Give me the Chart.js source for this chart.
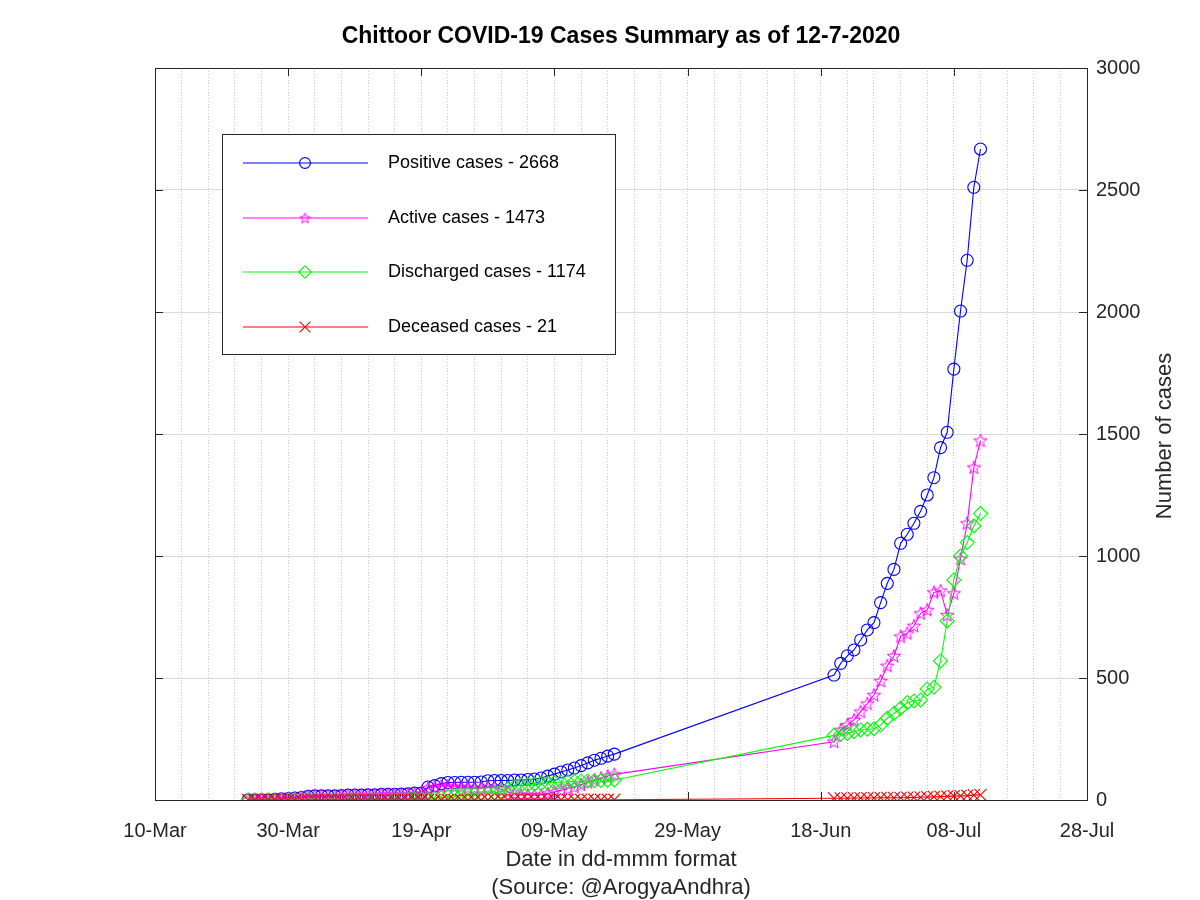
<!DOCTYPE html>
<html>
<head>
<meta charset="utf-8">
<title>Chittoor COVID-19 Cases Summary</title>
<script src="https://cdn.jsdelivr.net/npm/chart.js@4.4.1/dist/chart.umd.min.js"></script>
<style>
  html, body { margin: 0; padding: 0; background: #fff; }
  #wrap { width: 1200px; height: 900px; }
</style>
</head>
<body>
<div id="wrap"><canvas id="chart" width="1200" height="900"></canvas></div>
<script>
// ----- DATOS -----

// fechas de los boletines (2020, mm-dd)
const reportDates = [
    '03-24', '03-25', '03-26', '03-27', '03-28', '03-29', '03-30', '03-31',
    '04-01', '04-02', '04-03', '04-04', '04-05', '04-06', '04-07', '04-08', '04-09', '04-10',
    '04-11', '04-12', '04-13', '04-14', '04-15', '04-16', '04-17', '04-18', '04-19', '04-20',
    '04-21', '04-22', '04-23', '04-24', '04-25', '04-26', '04-27', '04-28', '04-29', '04-30',
    '05-01', '05-02', '05-03', '05-04', '05-05', '05-06', '05-07', '05-08', '05-09', '05-10',
    '05-11', '05-12', '05-13', '05-14', '05-15', '05-16', '05-17', '05-18',
    '06-20', '06-21', '06-22', '06-23', '06-24', '06-25', '06-26', '06-27', '06-28', '06-29', '06-30',
    '07-01', '07-02', '07-03', '07-04', '07-05', '07-06', '07-07', '07-08', '07-09', '07-10', '07-11', '07-12'
];

const positiveCases = [
    1, 1, 1, 1, 3, 5, 6, 8,
    10, 15, 17, 17, 17, 17, 18, 20, 20, 20,
    21, 21, 23, 23, 23, 24, 25, 28, 28, 53,
    59, 67, 72, 72, 73, 73, 73, 74, 79, 80,
    80, 80, 82, 82, 84, 86, 90, 98, 106, 115,
    123, 131, 141, 152, 163, 171, 180, 188,
    512, 560, 591, 615, 656, 697, 727, 809, 888, 945, 1052,
    1089, 1134, 1183, 1250, 1321, 1444, 1507, 1766, 2004, 2212, 2511, 2668
];

const activeCases = [
    1, 1, 1, 1, 3, 5, 6, 8,
    10, 15, 17, 17, 17, 17, 18, 20, 20, 20,
    21, 21, 23, 23, 23, 22, 23, 25, 25, 49,
    53, 57, 58, 54, 53, 51, 49, 48, 51, 50,
    44, 34, 26, 21, 21, 20, 21, 27, 33, 40,
    47, 54, 63, 73, 83, 90, 98, 105,
    239, 287, 307, 328, 362, 395, 430, 488, 550, 590, 670,
    683, 714, 765, 779, 851, 858, 758, 847, 988, 1134, 1363, 1473
];

const dischargedCases = [
    0, 0, 0, 0, 0, 0, 0, 0,
    0, 0, 0, 0, 0, 0, 0, 0, 0, 0,
    0, 0, 0, 0, 0, 2, 2, 3, 3, 4,
    6, 10, 14, 18, 20, 22, 24, 26, 28, 30,
    35, 45, 55, 60, 62, 65, 68, 70, 72, 74,
    75, 76, 77, 78, 79, 80, 81, 82,
    265, 269, 273, 280, 287, 290, 292, 307, 335, 355, 376,
    399, 406, 410, 455, 462, 570, 734, 902, 1000, 1055, 1123, 1174
];

const deceasedCases = [
    0, 0, 0, 0, 0, 0, 0, 0,
    0, 0, 0, 0, 0, 0, 0, 0, 0, 0,
    0, 0, 0, 0, 0, 0, 0, 0, 0, 0,
    0, 0, 0, 0, 0, 0, 0, 0, 0, 0,
    1, 1, 1, 1, 1, 1, 1, 1, 1, 1,
    1, 1, 1, 1, 1, 1, 1, 1,
    7, 7, 7, 8, 8, 8, 8, 9, 9, 9, 9,
    10, 10, 11, 12, 13, 14, 15, 16, 17, 18, 20, 21
];

// etiquetas del eje X (cada 20 días desde el 10-Mar)
const tickLabels = ['10-Mar', '30-Mar', '19-Apr', '09-May', '29-May', '18-Jun', '08-Jul', '28-Jul'];

// ----- CONFIGURACIÓN -----

const FONT = "'Liberation Sans', Arial, Helvetica, sans-serif";
const AXIS_COLOR = '#262626';
Chart.defaults.font.family = FONT;
Chart.defaults.color = AXIS_COLOR;

// días desde el 10 de marzo
const origin = Date.UTC(2020, 2, 10);
const dayNumbers = reportDates.map(s => {
    const [m, d] = s.split('-').map(Number);
    return (Date.UTC(2020, m - 1, d) - origin) / 86400000;
});

/**
 * Estrella de cinco puntas hueca (marcador tipo pentagrama)
 */
function makeStar(color, size) {
    const c = document.createElement('canvas');
    c.width = c.height = size;
    const g = c.getContext('2d');
    const r = size / 2 - 1, ri = r * 0.42, cx = size / 2, cy = size / 2 + 0.5;
    g.beginPath();
    for (let k = 0; k < 10; k++) {
        const a = -Math.PI / 2 + k * Math.PI / 5;
        const rr = k % 2 ? ri : r;
        g.lineTo(cx + rr * Math.cos(a), cy + rr * Math.sin(a));
    }
    g.closePath();
    g.strokeStyle = color;
    g.lineWidth = 1;
    g.stroke();
    return c;
}

const starPoint = makeStar('#ff00ff', 16);
const starLegend = makeStar('#ff00ff', 13);

function series(label, values, color, style, radius, order, legendStyle) {
    return {
        label: label,
        data: values.map((v, i) => ({ x: dayNumbers[i], y: v })),
        borderColor: color,
        backgroundColor: color,
        borderWidth: 1.1,
        pointStyle: style,
        pointRadius: radius,
        pointHoverRadius: radius,
        pointBorderColor: color,
        pointBackgroundColor: 'rgba(0,0,0,0)',
        pointBorderWidth: 1.1,
        tension: 0,
        order: order,
        legendStyle: legendStyle || style
    };
}

const datasets = [
    series('Positive cases - 2668', positiveCases, '#0000ff', 'circle', 6, 4),
    series('Active cases - 1473', activeCases, '#ff00ff', starPoint, 6, 3, starLegend),
    series('Discharged cases - 1174', dischargedCases, '#00ff00', 'rectRot', 7, 2),
    series('Deceased cases - 21', deceasedCases, '#ff0000', 'crossRot', 8.5, 1)
];

// marco del área de trazado y marcas hacia dentro
const frameTicks = {
    id: 'frameTicks',
    beforeDatasetsDraw(chart) {
        const { ctx, chartArea: a, scales } = chart;
        ctx.save();
        ctx.strokeStyle = AXIS_COLOR;
        ctx.lineWidth = 1;
        ctx.beginPath();
        scales.x.ticks.forEach(t => {
            if (t.value % 20 !== 0) return;
            const px = Math.round(scales.x.getPixelForValue(t.value)) + 0.5;
            ctx.moveTo(px, a.bottom); ctx.lineTo(px, a.bottom - 8);
            ctx.moveTo(px, a.top); ctx.lineTo(px, a.top + 8);
        });
        scales.y.ticks.forEach(t => {
            const py = Math.round(scales.y.getPixelForValue(t.value)) + 0.5;
            ctx.moveTo(a.left, py); ctx.lineTo(a.left + 8, py);
            ctx.moveTo(a.right, py); ctx.lineTo(a.right - 8, py);
        });
        ctx.stroke();
        ctx.strokeRect(Math.round(a.left) + 0.5, Math.round(a.top) + 0.5,
            Math.round(a.right - a.left), Math.round(a.bottom - a.top));
        ctx.restore();
    }
};

// leyenda en recuadro dentro del área de trazado
const boxLegend = {
    id: 'boxLegend',
    afterDatasetsDraw(chart) {
        const { ctx } = chart;
        const box = { x: 222.5, y: 134.5, w: 393, h: 220 };
        ctx.save();
        ctx.fillStyle = '#ffffff';
        ctx.fillRect(box.x, box.y, box.w, box.h);
        ctx.strokeStyle = AXIS_COLOR;
        ctx.lineWidth = 1;
        ctx.strokeRect(box.x, box.y, box.w, box.h);
        const rows = [163, 218, 272, 327];
        chart.data.datasets.forEach((ds, i) => {
            const y = rows[i];
            ctx.strokeStyle = ds.borderColor;
            ctx.lineWidth = 1.1;
            ctx.beginPath();
            ctx.moveTo(243, y); ctx.lineTo(368, y);
            ctx.stroke();
            ctx.fillStyle = 'rgba(0,0,0,0)';
            Chart.helpers.drawPoint(ctx, {
                pointStyle: ds.legendStyle,
                radius: ds.pointRadius * 0.9,
                rotation: 0,
                borderWidth: 1.1
            }, 305, y);
            ctx.fillStyle = '#000';
            ctx.font = '18px ' + FONT;
            ctx.textBaseline = 'middle';
            ctx.textAlign = 'left';
            ctx.fillText(ds.label, 388, y);
        });
        ctx.restore();
    }
};

// título del eje Y a la derecha, leído de abajo arriba
const yTitle = {
    id: 'yTitle',
    afterDraw(chart) {
        const { ctx, chartArea: a } = chart;
        ctx.save();
        ctx.translate(1165, (a.top + a.bottom) / 2 + 2);
        ctx.rotate(-Math.PI / 2);
        ctx.fillStyle = AXIS_COLOR;
        ctx.font = '22px ' + FONT;
        ctx.textAlign = 'center';
        ctx.textBaseline = 'middle';
        ctx.fillText('Number of cases', 0, 0);
        ctx.restore();
    }
};

new Chart(document.getElementById('chart'), {
    type: 'line',
    data: { datasets: datasets },
    options: {
        responsive: false,
        animation: false,
        layout: { padding: { left: 155, right: 0, top: 0, bottom: 0 } },
        plugins: {
            legend: { display: false },
            tooltip: { enabled: false },
            title: {
                display: true,
                text: 'Chittoor COVID-19 Cases Summary as of 12-7-2020',
                color: '#000',
                fullSize: false,
                font: { size: 23, weight: 'bold', lineHeight: 1.2 },
                padding: { top: 23, bottom: 17.4 }
            }
        },
        scales: {
            x: {
                type: 'linear',
                min: 0,
                max: 140,
                afterBuildTicks(scale) {
                    const ticks = [];
                    for (let v = 0; v <= 140; v += 4) ticks.push({ value: v });
                    scale.ticks = ticks;
                },
                afterFit(scale) { scale.height = 100; },
                ticks: {
                    autoSkip: false,
                    maxRotation: 0,
                    padding: 19,
                    color: AXIS_COLOR,
                    font: { size: 20 },
                    callback: v => (v % 20 === 0 ? tickLabels[v / 20] : '')
                },
                grid: { color: '#c8c8c8', lineWidth: 1, drawTicks: false },
                border: { display: false, dash: [1, 2] },
                title: {
                    display: true,
                    text: ['Date in dd-mmm format', '(Source: @ArogyaAndhra)'],
                    color: AXIS_COLOR,
                    font: { size: 22, lineHeight: 1.27 },
                    padding: { top: 0, bottom: -2 }
                }
            },
            y: {
                position: 'right',
                min: 0,
                max: 3000,
                afterFit(scale) { scale.width = 113; },
                ticks: {
                    stepSize: 500,
                    padding: 9,
                    color: AXIS_COLOR,
                    font: { size: 20 },
                    callback: v => String(v)
                },
                grid: { color: '#dadada', lineWidth: 1, drawTicks: false },
                border: { display: false }
            }
        }
    },
    plugins: [frameTicks, boxLegend, yTitle]
});
</script>
</body>
</html>
